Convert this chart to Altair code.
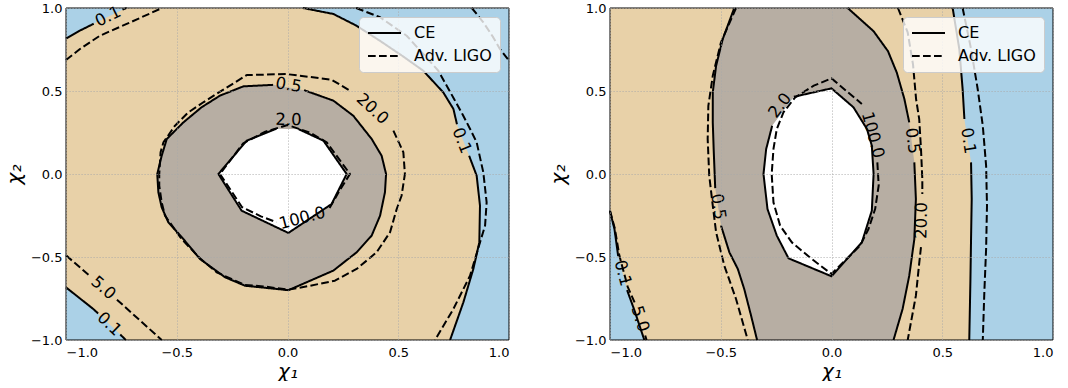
import math
import altair as alt
import pandas as pd

PANEL_W, PANEL_H = 443, 332

BLUE = "#abd1e7"
TAN = "#e8d1a8"
GREY = "#b7aea3"
WHITE = "#ffffff"

BOUNDS = [-1.0, 1.0]
TICKS = [-1.0, -0.5, 0.0, 0.5, 1.0]
DETECTORS = ["CE", "Adv. LIGO"]

# ---------------------------------------------------------------------------
# Left panel: contour paths as (chi1, chi2) points; None marks the gap where
# the level label sits on the line.
# ---------------------------------------------------------------------------
L_CE_01_TOP = [(-1.0, 0.815), (-0.94, 0.862), (-0.875, 0.905), None,
               (-0.745, 0.99), (-0.726, 1.0)]
L_CE_01_RIGHT = [(0.07, 1.0), (0.207, 0.964), (0.312, 0.893), (0.42, 0.80),
                 (0.52, 0.71), (0.613, 0.622), (0.703, 0.492), (0.749, 0.392),
                 (0.765, 0.30), None, (0.82, 0.11), (0.854, -0.01),
                 (0.869, -0.191), (0.866, -0.412), (0.839, -0.572),
                 (0.794, -0.773), (0.734, -1.0)]
L_CE_01_BOTTOM = [(-1.0, -0.683), (-0.877, -0.813), (-0.855, -0.84), None,
                  (-0.755, -0.967), (-0.73, -1.0)]
L_CE_05 = [(0.075, 0.505), (0.207, 0.442), (0.297, 0.351), (0.380, 0.211),
           (0.425, 0.110), (0.445, 0.0), (0.440, -0.110), (0.418, -0.251),
           (0.380, -0.371), (0.312, -0.472), (0.207, -0.582), (0.102, -0.643),
           (0.004, -0.700), (-0.192, -0.673), (-0.282, -0.622),
           (-0.395, -0.512), (-0.470, -0.392), (-0.538, -0.291),
           (-0.568, -0.201), (-0.583, -0.110), (-0.588, 0.0), (-0.568, 0.110),
           (-0.545, 0.211), (-0.470, 0.311), (-0.388, 0.402), (-0.305, 0.472),
           (-0.199, 0.528), (-0.065, 0.537), None]
L_CE_20 = [(0.05, 0.27), (0.162, 0.201), (0.267, 0.0), (0.199, -0.181),
           (0.004, -0.355), (-0.207, -0.221), (-0.312, 0.0), (-0.184, 0.201),
           (-0.05, 0.273), None]
L_LIGO_5_TOP = [(-1.0, 0.687), (-0.937, 0.753), (-0.847, 0.833),
                (-0.726, 0.904), (-0.576, 0.994), (-0.565, 1.0)]
L_LIGO_5_RIGHT = [(0.31, 1.0), (0.418, 0.944), (0.538, 0.833), (0.681, 0.622),
                  (0.752, 0.452), (0.79, 0.36), (0.825, 0.27), (0.854, 0.191),
                  (0.884, 0.01), (0.899, -0.171), (0.892, -0.311),
                  (0.869, -0.412), (0.824, -0.613), (0.749, -0.813),
                  (0.666, -1.0)]
L_LIGO_5_CORNER = [(0.832, 1.0), (0.884, 0.914), (0.929, 0.823),
                   (0.959, 0.753), (1.0, 0.683)]
L_LIGO_5_BOTTOM = [(-1.0, -0.49), (-0.89, -0.617), None, (-0.77, -0.757),
                   (-0.568, -1.0)]
L_LIGO_20 = [(0.478, 0.261), (0.523, 0.131), (0.530, 0.0), (0.515, -0.131),
             (0.493, -0.211), (0.463, -0.351), (0.402, -0.472),
             (0.312, -0.572), (0.214, -0.643), (0.102, -0.673), (0.004, -0.697),
             (-0.109, -0.677), (-0.192, -0.669), (-0.320, -0.592),
             (-0.395, -0.508), (-0.478, -0.392), (-0.553, -0.251),
             (-0.568, -0.171), (-0.579, -0.070), (-0.579, 0.0), (-0.573, 0.131),
             (-0.560, 0.191), (-0.508, 0.291), (-0.448, 0.371), (-0.380, 0.432),
             (-0.297, 0.502), (-0.184, 0.596), (-0.004, 0.602), (0.199, 0.568),
             (0.282, 0.502), None]
L_LIGO_100 = [(0.19, -0.205), (0.235, -0.1), (0.282, 0.0), (0.177, 0.191),
              (0.1, 0.25), (0.0, 0.295), (-0.1, 0.255), (-0.2, 0.185),
              (-0.305, 0.0), (-0.205, -0.2), (-0.12, -0.255), (-0.05, -0.29),
              None]

L_LINES = [("CE", L_CE_01_TOP), ("CE", L_CE_01_RIGHT), ("CE", L_CE_01_BOTTOM),
           ("CE", L_CE_05), ("CE", L_CE_20),
           ("Adv. LIGO", L_LIGO_5_TOP), ("Adv. LIGO", L_LIGO_5_RIGHT),
           ("Adv. LIGO", L_LIGO_5_CORNER), ("Adv. LIGO", L_LIGO_5_BOTTOM),
           ("Adv. LIGO", L_LIGO_20), ("Adv. LIGO", L_LIGO_100)]

L_LABELS = [("0.1", -0.81, 0.948, L_CE_01_TOP),
            ("0.1", 0.786, 0.201, L_CE_01_RIGHT),
            ("0.1", -0.805, -0.904, L_CE_01_BOTTOM),
            ("0.5", 0.005, 0.535, L_CE_05),
            ("2.0", 0.004, 0.325, L_CE_20),
            ("5.0", -0.832, -0.687, L_LIGO_5_BOTTOM),
            ("20.0", 0.383, 0.392, L_LIGO_20),
            ("100.0", 0.067, -0.267, L_LIGO_100)]

# ---------------------------------------------------------------------------
# Right panel
# ---------------------------------------------------------------------------
R_CE_01_LEFT = [(-1.0, -0.225), (-0.98, -0.33), (-0.963, -0.495), None,
                (-0.923, -0.699), (-0.89, -0.82), (-0.845, -1.0)]
R_CE_01_RIGHT = [(0.547, 1.0), (0.577, 0.753), (0.592, 0.512), (0.600, 0.331),
                 None, (0.630, 0.07), (0.633, -0.151), (0.630, -0.392),
                 (0.627, -0.652), (0.622, -1.0)]
R_CE_05_LEFT = [(-0.439, 1.0), (-0.491, 0.813), (-0.521, 0.652),
                (-0.536, 0.492), (-0.536, 0.311), (-0.532, 0.151),
                (-0.525, -0.085), None, (-0.499, -0.31), (-0.461, -0.472),
                (-0.423, -0.572), (-0.394, -0.693), (-0.363, -0.854),
                (-0.336, -1.0)]
R_CE_05_RIGHT = [(0.073, 1.0), (0.19, 0.86), (0.255, 0.74), (0.295, 0.61),
                 (0.329, 0.452), (0.351, 0.311), None, (0.374, 0.07),
                 (0.381, -0.151), (0.374, -0.392), (0.351, -0.613),
                 (0.321, -0.813), (0.28, -1.0)]
R_CE_20 = [(-0.17, 0.465), (-0.08, 0.492), (0.0, 0.516), (0.099, 0.402),
           (0.16, 0.271), (0.182, 0.171), (0.190, 0.0), (0.182, -0.221),
           (0.137, -0.412), (0.0, -0.616), (-0.194, -0.508), (-0.247, -0.371),
           (-0.289, -0.211), (-0.307, 0.0), (-0.295, 0.15), (-0.268, 0.29),
           None]
R_LIGO_5_LEFT = [(-1.0, -0.22), (-0.978, -0.33), (-0.958, -0.49),
                 (-0.92, -0.68), (-0.889, -0.773), None, (-0.841, -0.973),
                 (-0.835, -1.0)]
R_LIGO_20_LEFT = [(-0.431, 1.0), (-0.499, 0.793), (-0.536, 0.592),
                  (-0.556, 0.411), (-0.559, 0.211), (-0.552, -0.01),
                  (-0.536, -0.191), (-0.521, -0.351), (-0.484, -0.552),
                  (-0.431, -0.753), (-0.378, -1.0)]
R_LIGO_20_RIGHT = [(0.30, 1.0), (0.344, 0.853), (0.368, 0.66), (0.382, 0.45),
                   (0.396, 0.331), (0.404, 0.151), (0.41, -0.03),
                   (0.41, -0.12), None, (0.404, -0.44), (0.395, -0.55),
                   (0.381, -0.733), (0.344, -1.0)]
R_LIGO_5_RIGHT = [(0.592, 1.0), (0.630, 0.753), (0.660, 0.512), (0.683, 0.291),
                  (0.698, 0.050), (0.702, -0.191), (0.698, -0.452),
                  (0.690, -0.713), (0.683, -1.0)]
R_LIGO_100 = [(0.207, 0.07), (0.213, -0.07), (0.197, -0.211), (0.167, -0.331),
              (0.129, -0.432), (0.0, -0.602), (-0.089, -0.512),
              (-0.179, -0.412), (-0.232, -0.311), (-0.262, -0.171),
              (-0.270, 0.0), (-0.262, 0.151), (-0.247, 0.271), (-0.217, 0.371),
              (-0.164, 0.462), (-0.08, 0.532), (0.0, 0.576), (0.137, 0.422),
              None]

R_LINES = [("CE", R_CE_01_LEFT), ("CE", R_CE_01_RIGHT), ("CE", R_CE_05_LEFT),
           ("CE", R_CE_05_RIGHT), ("CE", R_CE_20),
           ("Adv. LIGO", R_LIGO_5_LEFT), ("Adv. LIGO", R_LIGO_20_LEFT),
           ("Adv. LIGO", R_LIGO_20_RIGHT), ("Adv. LIGO", R_LIGO_5_RIGHT),
           ("Adv. LIGO", R_LIGO_100)]

R_LABELS = [("0.1", -0.943, -0.597, R_CE_01_LEFT),
            ("5.0", -0.865, -0.873, R_LIGO_5_LEFT),
            ("0.5", -0.512, -0.197, R_CE_05_LEFT),
            ("0.5", 0.365, 0.2, R_CE_05_RIGHT),
            ("0.1", 0.617, 0.2, R_CE_01_RIGHT),
            ("20.0", 0.407, -0.28, R_LIGO_20_RIGHT),
            ("2.0", -0.232, 0.412, R_CE_20),
            ("100.0", 0.186, 0.235, R_LIGO_100)]


def clean(pts):
    return [p for p in pts if p is not None]


# filled CE regions, painted in order over the blue background
L_FILLS = [
    (TAN, clean(L_CE_01_TOP) + clean(L_CE_01_RIGHT) + clean(L_CE_01_BOTTOM)[::-1]),
    (GREY, clean(L_CE_05)),
    (WHITE, clean(L_CE_20)),
]
R_FILLS = [
    (TAN, clean(R_CE_01_LEFT) + clean(R_CE_01_RIGHT)[::-1] + [(BOUNDS[0], BOUNDS[1])]),
    (GREY, clean(R_CE_05_LEFT) + clean(R_CE_05_RIGHT)[::-1]),
    (WHITE, clean(R_CE_20)),
]


def line_frame(paths):
    rows, seg = [], 0
    for det, pts in paths:
        seg += 1
        k = 0
        for p in pts:
            if p is None:
                seg += 1
                continue
            rows.append({"x": p[0], "y": p[1], "seg": seg, "k": k, "det": det})
            k += 1
    return pd.DataFrame(rows)


def label_frame(labels):
    rows = []
    for text, x, y, pts in labels:
        i = pts.index(None)
        x1, y1 = pts[i - 1]
        x2, y2 = pts[(i + 1) % len(pts)]
        dx = (x2 - x1) * PANEL_W / 2
        dy = -(y2 - y1) * PANEL_H / 2
        a = math.degrees(math.atan2(dy, dx))
        if a > 90:
            a -= 180
        elif a <= -90:
            a += 180
        rows.append({"x": x, "y": y, "text": text, "angle": a % 360})
    return pd.DataFrame(rows)


def poly_frame(pts):
    return pd.DataFrame({"x": [p[0] for p in pts], "y": [p[1] for p in pts],
                         "k": list(range(len(pts)))})


scale = alt.Scale(domain=BOUNDS, nice=False, zero=False)
axis_common = dict(values=TICKS, format=".1f", grid=True, ticks=False,
                   domain=False, labelFontSize=13, labelColor="black",
                   titleFontSize=20, titleFontWeight="normal",
                   titleFontStyle="italic", titleColor="black",
                   gridColor="#a8a8a8", gridWidth=0.8, gridDash=[1.2, 1.8],
                   zindex=1)
X_AXIS = alt.Axis(title="χ₁", labelPadding=6, titlePadding=2, **axis_common)
Y_AXIS = alt.Axis(title="χ₂", labelPadding=4, titlePadding=6, **axis_common)


def xy(xfield="x", yfield="y"):
    return dict(x=alt.X(f"{xfield}:Q", scale=scale, axis=X_AXIS),
                y=alt.Y(f"{yfield}:Q", scale=scale, axis=Y_AXIS))


box = pd.DataFrame({"x": [BOUNDS[0]], "x2": [BOUNDS[1]],
                    "y": [BOUNDS[0]], "y2": [BOUNDS[1]]})


def panel(paths, labels, fills):
    layers = [alt.Chart(box).mark_rect(fill=BLUE).encode(
        x2="x2:Q", y2="y2:Q", **xy())]
    for color, pts in fills:
        layers.append(
            alt.Chart(poly_frame(pts))
            .mark_line(fill=color, strokeOpacity=0, interpolate="linear")
            .encode(order="k:Q", **xy()))
    layers.append(
        alt.Chart(line_frame(paths))
        .mark_line(color="black", strokeWidth=2, strokeJoin="round")
        .encode(detail="seg:N", order="k:Q",
                strokeDash=alt.StrokeDash(
                    "det:N",
                    scale=alt.Scale(domain=DETECTORS, range=[[1, 0], [7.7, 3.3]]),
                    legend=alt.Legend(
                        title=None, orient="top-right", offset=9,
                        symbolType="stroke", symbolSize=1089,
                        symbolStrokeWidth=2, symbolStrokeColor="black",
                        clipHeight=16, rowPadding=7, labelOffset=12,
                        labelFontSize=16, labelColor="black", padding=8,
                        fillColor="rgba(255,255,255,0.8)",
                        strokeColor="#cccccc", cornerRadius=4, zindex=2)),
                **xy()))
    layers.append(
        alt.Chart(label_frame(labels))
        .mark_text(fontSize=16.5, color="black", align="center", baseline="middle")
        .encode(text="text:N", angle=alt.Angle("angle:Q", scale=None), **xy()))
    layers.append(alt.Chart(box).mark_rect(fillOpacity=0, stroke="black",
                                           strokeWidth=1).encode(
        x2="x2:Q", y2="y2:Q", **xy()))
    return alt.layer(*layers).properties(width=PANEL_W, height=PANEL_H)


chart = (
    alt.hconcat(panel(L_LINES, L_LABELS, L_FILLS),
                panel(R_LINES, R_LABELS, R_FILLS), spacing=38)
    .resolve_scale(strokeDash="independent")
    .properties(padding={"left": 4, "top": 2, "right": 0, "bottom": 0})
    .configure(font="DejaVu Sans")
    .configure_view(strokeWidth=0)
)

chart.save("out.html", embed_options={"renderer": "svg", "actions": False})
